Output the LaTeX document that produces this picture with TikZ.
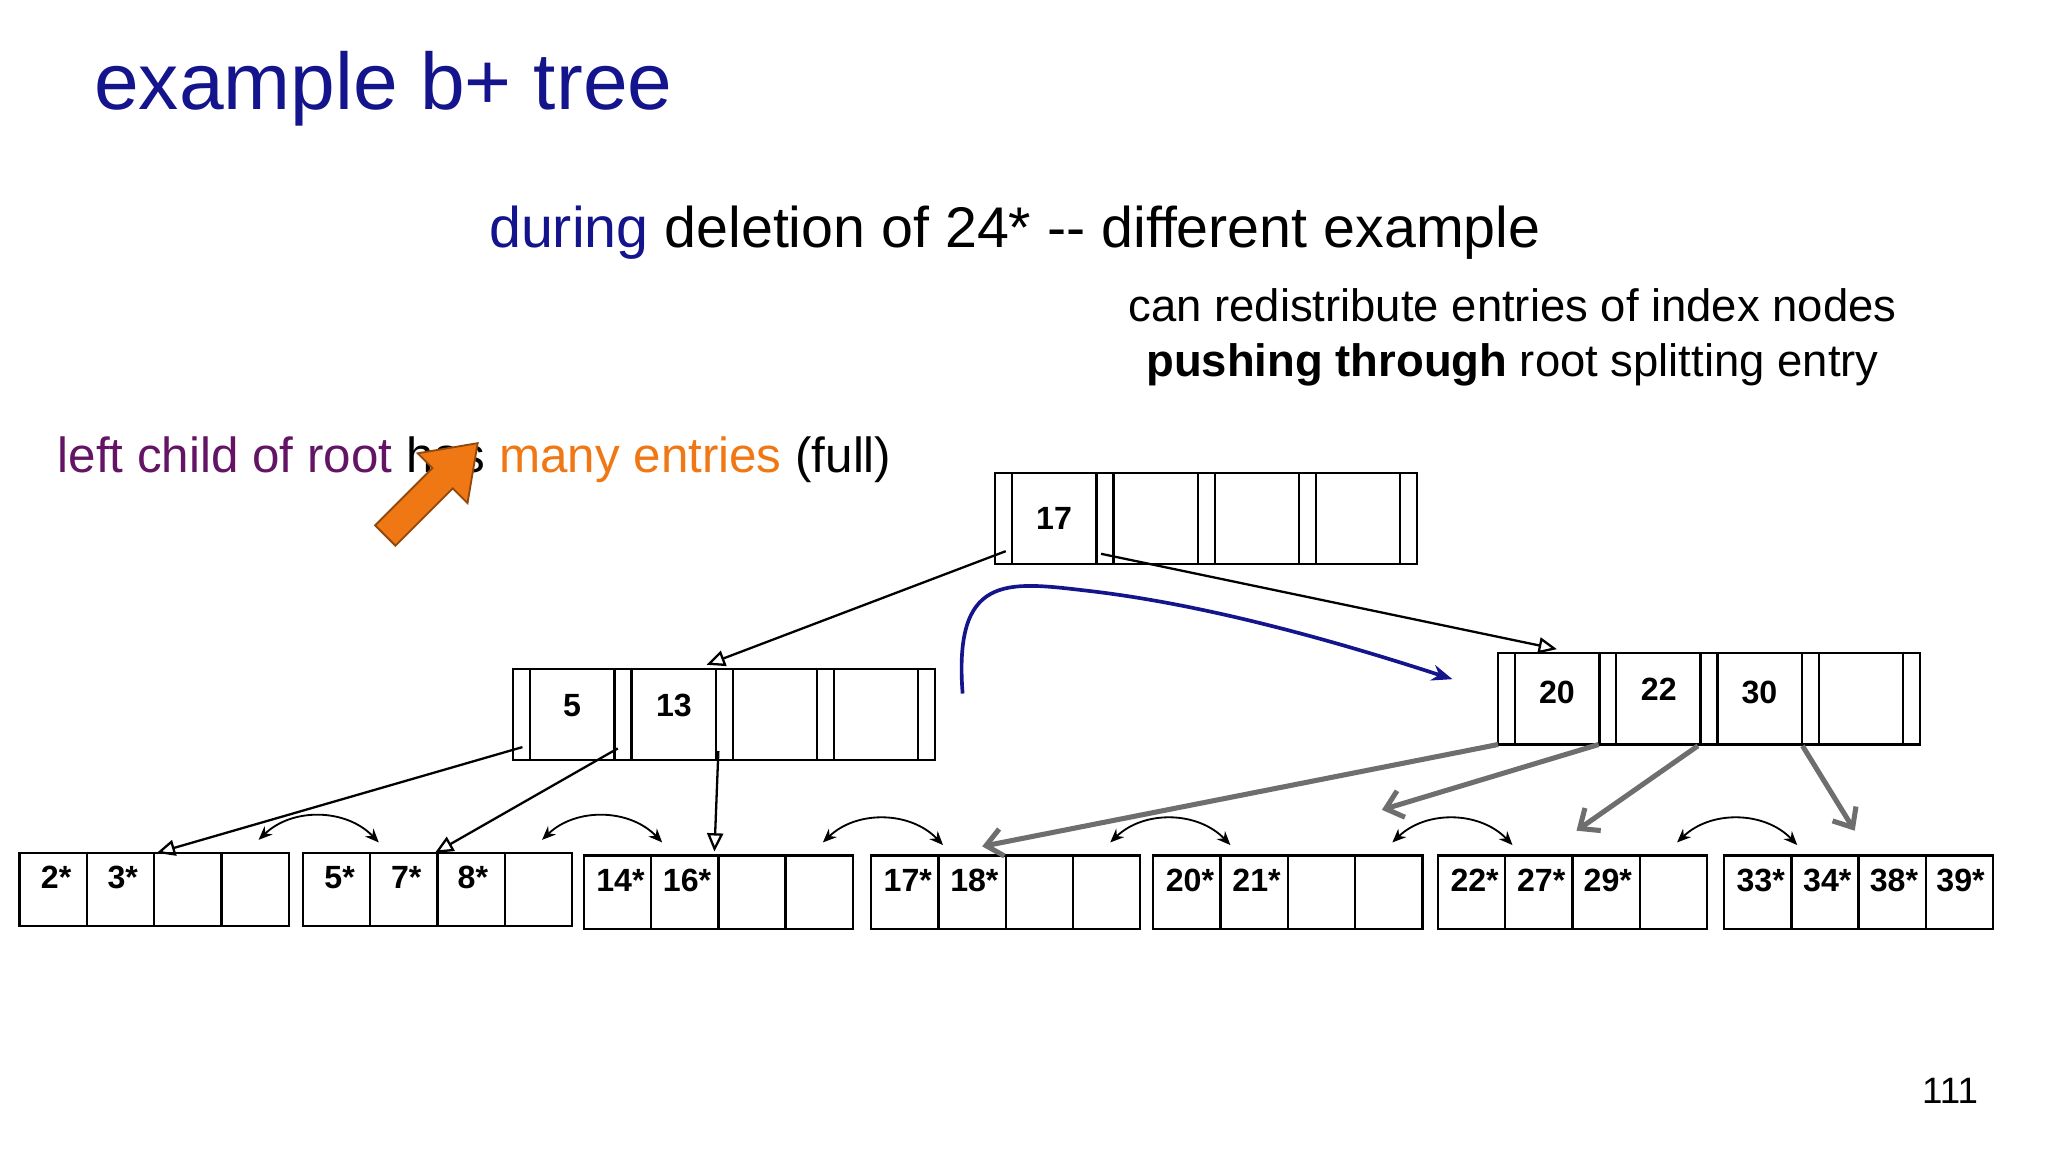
\documentclass[tikz,border=0pt]{standalone}
\usepackage{fontspec}
\setmainfont{Liberation Sans}
\usetikzlibrary{arrows.meta}
\definecolor{navy}{RGB}{20,20,140}
\definecolor{purp}{RGB}{100,20,100}
\definecolor{orng}{RGB}{240,120,20}
\definecolor{gry}{RGB}{110,110,110}
\tikzset{
 box/.style={draw,line width=1pt},
 key/.style={font=\bfseries\fontsize{14}{14}\selectfont,inner sep=0pt},
 tree/.style={line width=1pt,-{Triangle[open,length=8pt,width=7pt]}},
 gtree/.style={gry,line width=2.2pt,-{Straight Barb[length=7pt,width=12pt]}},
 sib/.style={line width=0.8pt,{Stealth[length=6pt,width=5pt]}-{Stealth[length=6pt,width=5pt]}},
}
\begin{document}
\begin{tikzpicture}[x=0.02cm,y=-0.02cm]
\useasboundingbox (0,0) rectangle (1568,882);
\fill[white] (0,0) rectangle (1568,882);
\node[anchor=west,text=navy,font=\fontsize{35}{35}\selectfont] (title) at (66,68) {example b+ tree};
\node[font=\fontsize{25}{25}\selectfont] (sub) at (777,178) {\textcolor{navy}{during} deletion of 24* {-}{-} different example};
\node[font=\fontsize{19.8}{24}\selectfont,align=center] (note) at (1158,258) {can redistribute entries of index nodes\\\textbf{pushing through} root splitting entry};
\node[anchor=west,font=\fontsize{21.5}{21.5}\selectfont] (left) at (38,352) {\textcolor{purp}{left child of root} has \textcolor{orng}{many entries} (full)};
\node[font=\fontsize{16}{16}\selectfont] (pg) at (1493,835) {111};
% orange arrow
\begin{scope}[shift={(295,410)},rotate=45]
\filldraw[fill=orng,draw=orng!60!black,line width=0.8pt] (0,-11) -- (62,-11) -- (62,-27) -- (100,0) -- (62,27) -- (62,11) -- (0,11) -- cycle;
\end{scope}
% index nodes
\foreach \nm/\x/\y/\a/\b/\c/\ya/\yb in {root/762/362/17///35/35,li/393/512/5/13//28/28,ri/1147/500/20/22/30/30/28}{
  \draw[box] (\x,\y) rectangle ++(323,70);
  \foreach \i in {0,...,3}{
    \draw[box] ({\x+13+\i*77.5},\y) -- ++(0,70);
    \draw[box] ({\x+77.5+\i*77.5},\y) -- ++(0,70);
  }
  \node[key] (\nm1) at ({\x+45},{\y+\ya}) {\a};
  \node[key] (\nm2) at ({\x+123},{\y+\yb}) {\b};
  \node[key] (\nm3) at ({\x+200},{\y+\ya}) {\c};
}
% leaves
\foreach \nm/\x/\y/\a/\b/\c/\d in {L1/15/653/2*/3*//,L2/232/653/5*/7*/8*/,L3/447/655/14*/16*//,L4/667/655/17*/18*//,L5/883/655/20*/21*//,L6/1101/655/22*/27*/29*/,L7/1320/655/33*/34*/38*/39*}{
  \draw[box] (\x,\y) rectangle ++(206,56);
  \foreach \i in {1,2,3} \draw[box] ({\x+\i*51.5},\y) -- ++(0,56);
  \node[key] (\nm a) at ({\x+28},{\y+19}) {\a};
  \node[key] (\nm b) at ({\x+79},{\y+19}) {\b};
  \node[key] (\nm c) at ({\x+130},{\y+19}) {\c};
  \node[key] (\nm d) at ({\x+181},{\y+19}) {\d};
  \coordinate (\nm s) at ({\x+183},{\y-10});
  \coordinate (\nm e) at ({\x+275},{\y-8});
}
\coordinate (rc0) at (770,422); \coordinate (rc1) at (843,424);
\coordinate (lic) at (541,509); \coordinate (ric) at (1192,497);
\draw[tree] (rc0) -- (lic);
\draw[tree] (rc1) -- (ric);
\coordinate (t1) at (120,653); \coordinate (t2) at (333,653); \coordinate (t3) at (547,652);
\draw[tree] (400,572) -- (t1);
\draw[tree] (473,573) -- (t2);
\draw[tree] (550,575) -- (t3);
\draw[gtree] (1147,570) -- (752,648);
\draw[gtree] (1224,570) -- (1058,620);
\draw[gtree] (1300,571) -- (1207,636);
\draw[gtree] (1380,571) -- (1420,636);
\draw[sib] (L1s) to[bend left=45] (L1e);
\draw[sib] (L2s) to[bend left=45] (L2e);
\draw[sib] (L3s) to[bend left=45] (L3e);
\draw[sib] (L4s) to[bend left=45] (L4e);
\draw[sib] (L5s) to[bend left=45] (L5e);
\draw[sib] (L6s) to[bend left=45] (L6e);
% blue curve
\draw[navy,line width=1.6pt,-{Stealth[length=9pt,width=7pt]}] (737,531) .. controls (730,440) and (770,445) .. (830,452) .. controls (920,462) and (1020,490) .. (1112,520);
\end{tikzpicture}
\end{document}
